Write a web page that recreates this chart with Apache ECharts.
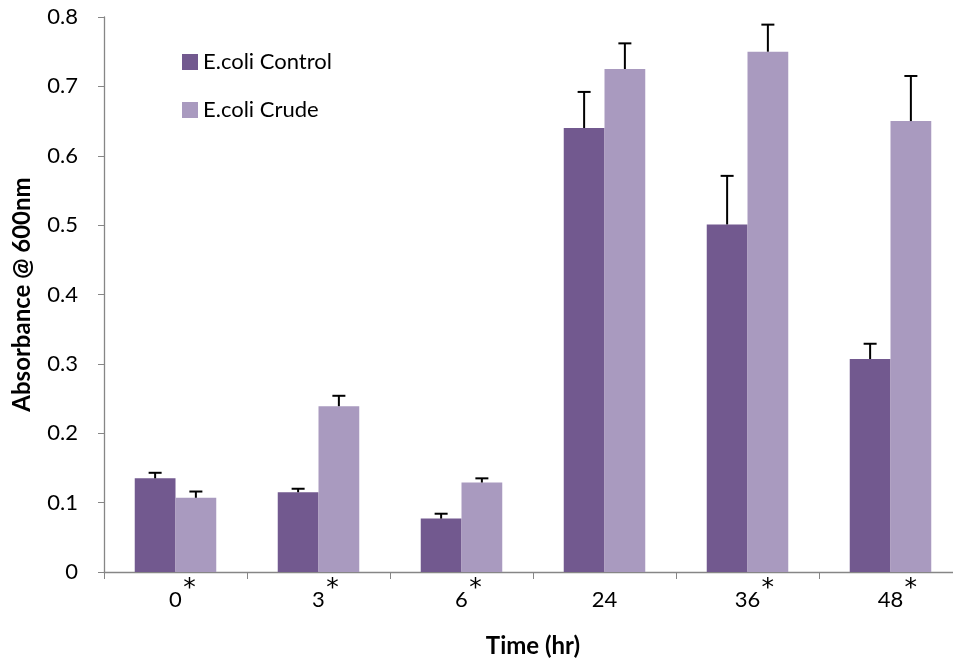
<!DOCTYPE html>
<html>
<head>
<meta charset="utf-8">
<script src="https://cdn.jsdelivr.net/npm/echarts@6/dist/echarts.min.js"></script>
<style>html,body{margin:0;padding:0;background:#fff;}#c{width:953px;height:662px;}</style>
</head>
<body>
<div id="c"></div>
<script>
var categories = ["0", "3", "6", "24", "36", "48"];
var starMarks = ["*", "*", "*", "", "*", "*"];
var controlValues = [0.135, 0.115, 0.077, 0.640, 0.501, 0.307];
var controlErrors = [0.008, 0.005, 0.007, 0.052, 0.070, 0.022];
var crudeValues = [0.107, 0.239, 0.129, 0.725, 0.750, 0.650];
var crudeErrors = [0.009, 0.015, 0.006, 0.037, 0.039, 0.065];
var yTicks = [0, 0.1, 0.2, 0.3, 0.4, 0.5, 0.6, 0.7, 0.8];

var FONT = "Lato";
var GAP = 0.43;

var chart = echarts.init(document.getElementById('c'));

function errorSeries(values, errors, side) {
  var data = values.map(function (v, i) { return [i, v, v + errors[i]]; });
  return {
    type: 'custom',
    silent: true,
    z: 5,
    data: data,
    renderItem: function (params, api) {
      var i = api.value(0);
      var base = api.coord([i, api.value(1)]);
      var top = api.coord([i, api.value(2)]);
      var band = api.size([1, 0])[0];
      var bw = band * (1 - GAP) / 2;
      var x = base[0] + side * bw / 2;
      var cap = 6.5;
      var st = { stroke: '#000', lineWidth: 2 };
      return {
        type: 'group',
        children: [
          { type: 'line', shape: { x1: x, y1: base[1], x2: x, y2: top[1] }, style: st },
          { type: 'line', shape: { x1: x - cap, y1: top[1], x2: x + cap, y2: top[1] }, style: st }
        ]
      };
    }
  };
}

chart.setOption({
  animation: false,
  backgroundColor: '#fff',
  textStyle: { fontFamily: FONT },
  grid: { left: 104, top: 17, width: 858, height: 555, containLabel: false, outerBoundsMode: 'none' },
  legend: {
    orient: 'vertical',
    left: 177,
    top: 45,
    itemWidth: 16,
    itemHeight: 16,
    itemGap: 24,
    icon: 'rect',
    textStyle: { fontFamily: FONT, fontSize: 22, lineHeight: 24, color: '#000' },
    data: ['E.coli Control', 'E.coli Crude']
  },
  xAxis: {
    type: 'category',
    data: categories,
    name: 'Time (hr)',
    nameLocation: 'middle',
    nameGap: 62,
    nameTextStyle: { fontFamily: FONT, fontSize: 24, fontWeight: 'bold', color: '#000' },
    axisLine: { lineStyle: { color: '#868686', width: 1.3 } },
    axisTick: { show: true, length: 7, inside: false, lineStyle: { color: '#868686' } },
    axisLabel: {
      margin: 0,
      formatter: function (val, idx) {
        var s = starMarks[idx] || ' ';
        return '{sp| }{n|' + val + '}{s|' + s + '}';
      },
      rich: {
        n: { fontFamily: FONT, fontSize: 22, lineHeight: 56, color: '#000' },
        sp: { fontFamily: "DejaVu Sans", fontSize: 25, lineHeight: 56, width: 15, padding: [0, 0, 24, 0] },
        s: { fontFamily: "DejaVu Sans", fontSize: 25, lineHeight: 56, color: '#000', width: 15, padding: [0, 0, 24, 0] }
      }
    },
    splitLine: { show: false }
  },
  yAxis: {
    type: 'value',
    min: 0,
    max: 0.8,
    interval: 0.1,
    name: 'Absorbance @ 600nm',
    nameLocation: 'middle',
    nameRotate: 90,
    nameGap: 70,
    nameTextStyle: { fontFamily: FONT, fontSize: 24, fontWeight: 'bold', color: '#000' },
    axisLine: { show: true, lineStyle: { color: '#868686', width: 1.3 } },
    axisTick: { show: true, length: 6, lineStyle: { color: '#868686' } },
    axisLabel: {
      margin: 26,
      fontFamily: FONT,
      fontSize: 22,
      color: '#000',
      formatter: function (v) {
        for (var k = 0; k < yTicks.length; k++) {
          if (Math.abs(yTicks[k] - v) < 1e-9) return String(yTicks[k]);
        }
        return '';
      }
    },
    splitLine: { show: false }
  },
  series: [
    {
      name: 'E.coli Control',
      type: 'bar',
      data: controlValues,
      barGap: '0%',
      barCategoryGap: (GAP * 100) + '%',
      itemStyle: { color: '#72598F' }
    },
    {
      name: 'E.coli Crude',
      type: 'bar',
      data: crudeValues,
      barGap: '0%',
      barCategoryGap: (GAP * 100) + '%',
      itemStyle: { color: '#A99ABF' }
    },
    errorSeries(controlValues, controlErrors, -1),
    errorSeries(crudeValues, crudeErrors, 1)
  ]
});
</script>
</body>
</html>
